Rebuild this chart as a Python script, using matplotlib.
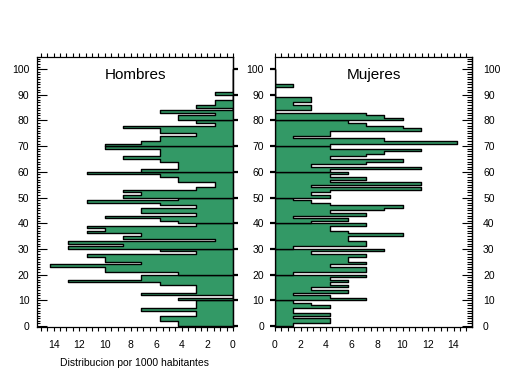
import matplotlib
matplotlib.use('Agg')
import matplotlib.pyplot as plt
import numpy as np

plt.rcParams['font.family'] = ['Liberation Sans', 'DejaVu Sans']

# personas por edad simple (0..100)
edades = np.arange(101)
hombres = [3, 3, 4, 4, 2, 2, 5, 2, 2, 2,
           3, 0, 5, 2, 2, 2, 4, 9, 5, 5,
           3, 7, 7, 10, 5, 7, 7, 8, 2, 4,
           9, 6, 9, 1, 6, 5, 8, 7, 8, 2,
           3, 4, 7, 2, 5, 5, 2, 4, 8, 3,
           6, 5, 6, 2, 1, 1, 3, 3, 4, 8,
           5, 3, 3, 3, 4, 6, 4, 4, 4, 7,
           7, 5, 4, 4, 2, 4, 4, 6, 1, 2,
           3, 3, 1, 4, 0, 2, 1, 1, 0, 0,
           1, 0, 0, 0, 0, 0, 0, 0, 0, 0, 0]
mujeres = [1, 3, 3, 1, 3, 1, 1, 3, 2, 1,
           5, 3, 1, 4, 2, 4, 3, 4, 3, 5,
           1, 5, 5, 3, 5, 4, 4, 5, 2, 6,
           1, 5, 5, 4, 4, 7, 4, 3, 3, 5,
           2, 4, 1, 5, 3, 6, 7, 3, 2, 1,
           3, 2, 3, 8, 2, 8, 3, 5, 3, 4,
           3, 8, 2, 5, 7, 3, 5, 6, 8, 3,
           3, 10, 6, 1, 3, 3, 8, 7, 5, 4,
           7, 6, 5, 0, 2, 2, 1, 2, 2, 0,
           0, 0, 0, 1, 0, 0, 0, 0, 0, 0, 0]
por_mil = 1000 / 700
titulos = ['Hombres', 'Mujeres']
verde = '#339966'

fig = plt.figure(figsize=(5.09, 3.76), dpi=100)
ax_h = fig.add_axes([37/509, 49/376, 196/509, 270/376])
ax_m = fig.add_axes([275/509, 49/376, 197/509, 270/376])


def piramide(ax, valores):
    v = np.array(valores) * por_mil
    for d in range(0, 100, 10):
        y = edades[d:d+11]
        x = np.append(v[d:d+10], v[d+9])
        ax.fill_betweenx(y, x, 0, step='post', facecolor=verde,
                         edgecolor='black', linewidth=1.0)
    ax.set_ylim(-0.4, 104.7)
    ax.set_xticks(np.arange(0, 15, 2))
    ax.set_xticks(np.arange(0, 15.3, 0.5), minor=True)
    ax.set_yticks(np.arange(0, 101, 10))
    ax.set_yticks(np.arange(0, 105, 1), minor=True)
    ax.tick_params(axis='x', which='both', direction='out', length=3,
                   width=0.8, top=True, labelsize=7.5, pad=6.5)
    for s in ax.spines.values():
        s.set_linewidth(0.9)


piramide(ax_h, hombres)
piramide(ax_m, mujeres)

ax_h.set_xlim(15.3, 0)
ax_m.set_xlim(0, 15.45)

# hombres: escala izquierda hacia dentro, derecha solo marcas
ax_h.tick_params(axis='y', which='major', direction='in', length=7,
                 width=0.8, labelsize=7.5, pad=5.5)
ax_h.tick_params(axis='y', which='minor', direction='in', length=2.5,
                 width=0.8)
sec_h = ax_h.secondary_yaxis('right')
sec_h.set_yticks(np.arange(0, 101, 10))
sec_h.tick_params(direction='out', length=3.5, width=1.6, labelright=False)
sec_h.spines['right'].set_linewidth(0.9)

# mujeres: izquierda marcas hacia fuera, derecha hacia dentro
ax_m.tick_params(axis='y', which='major', direction='out', length=3.5,
                 width=1.6, labelsize=7.5, pad=4.5)
ax_m.tick_params(axis='y', which='minor', left=False)
sec_m = ax_m.secondary_yaxis('right')
sec_m.set_yticks(np.arange(0, 101, 10))
sec_m.set_yticks(np.arange(0, 105, 1), minor=True)
sec_m.tick_params(which='major', direction='in', length=7, width=0.8,
                  labelsize=7.5, pad=8)
sec_m.tick_params(which='minor', direction='in', length=3.5, width=0.8)
sec_m.spines['right'].set_linewidth(0.9)

for ax, t in zip([ax_h, ax_m], titulos):
    ax.text(0.5, 0.933, t, transform=ax.transAxes, ha='center',
            va='center', fontsize=11)

fig.text(134/509, 1 - 363/376, 'Distribucion por 1000 habitantes',
         ha='center', va='center', fontsize=7.5)

fig.savefig('out.png', dpi=100)
